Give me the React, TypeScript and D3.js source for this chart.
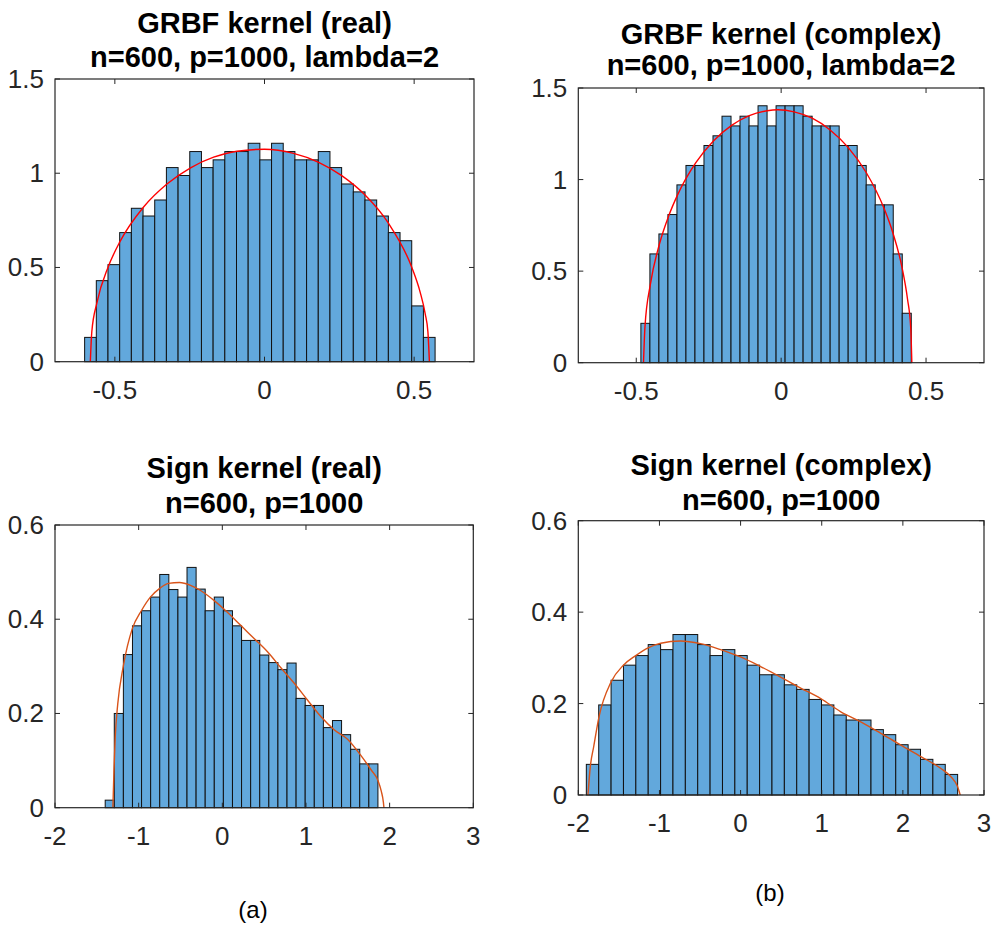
import React from 'react'
import * as d3 from 'd3'

// histogram bar heights (density), 30 bins each
const grbfRealHeights = [0.129, 0.430, 0.515, 0.685, 0.814, 0.773, 0.858, 1.030, 0.988, 1.115, 1.030, 1.071, 1.115, 1.115, 1.159, 1.071, 1.159, 1.115, 1.071, 1.071, 1.115, 1.030, 0.943, 0.901, 0.858, 0.773, 0.685, 0.642, 0.296, 0.129]
const grbfComplexHeights = [0.215, 0.594, 0.703, 0.809, 0.971, 1.077, 1.077, 1.186, 1.239, 1.346, 1.293, 1.346, 1.293, 1.403, 1.293, 1.403, 1.403, 1.403, 1.346, 1.293, 1.293, 1.293, 1.186, 1.186, 1.077, 0.971, 0.862, 0.862, 0.594, 0.270]
const signRealHeights = [0.016, 0.200, 0.325, 0.386, 0.418, 0.447, 0.495, 0.463, 0.447, 0.510, 0.464, 0.418, 0.447, 0.418, 0.386, 0.355, 0.355, 0.324, 0.308, 0.293, 0.307, 0.232, 0.217, 0.217, 0.170, 0.185, 0.155, 0.124, 0.093, 0.093]
const signComplexHeights = [0.067, 0.197, 0.251, 0.284, 0.305, 0.329, 0.318, 0.351, 0.351, 0.329, 0.305, 0.318, 0.305, 0.284, 0.263, 0.263, 0.241, 0.231, 0.209, 0.197, 0.175, 0.164, 0.164, 0.143, 0.132, 0.110, 0.100, 0.078, 0.067, 0.045]

// first bin edge and last bin edge
const grbfRealRange = [-0.601, 0.570]
const grbfComplexRange = [-0.484, 0.449]
const signRealRange = [-1.400, 1.860]
const signComplexRange = [-1.901, 2.675]

// limiting density curves
const grbfRealCurveX = [-0.582, -0.577, -0.560, -0.522, -0.483, -0.404, -0.326, -0.247, -0.170, -0.092, 0.000, 0.097, 0.181, 0.258, 0.336, 0.414, 0.492, 0.520, 0.537, 0.546, 0.551]
const grbfRealCurveY = [0, 0.159, 0.312, 0.504, 0.637, 0.821, 0.943, 1.029, 1.085, 1.117, 1.127, 1.105, 1.058, 0.987, 0.884, 0.735, 0.501, 0.369, 0.254, 0.158, 0]
const grbfComplexCurveX = [-0.475, -0.470, -0.451, -0.420, -0.388, -0.357, -0.295, -0.233, -0.171, -0.110, -0.048, -0.011, 0.045, 0.107, 0.169, 0.231, 0.293, 0.355, 0.386, 0.417, 0.436, 0.447, 0.451]
const grbfComplexCurveY = [0, 0.195, 0.430, 0.648, 0.802, 0.918, 1.091, 1.212, 1.296, 1.349, 1.376, 1.381, 1.370, 1.335, 1.271, 1.176, 1.040, 0.843, 0.707, 0.521, 0.348, 0.195, 0]
const signRealCurveX = [-1.308, -1.295, -1.280, -1.250, -1.184, -1.076, -0.968, -0.860, -0.752, -0.644, -0.512, -0.380, -0.260, -0.100, 0.060, 0.220, 0.380, 0.540, 0.700, 0.860, 1.020, 1.180, 1.340, 1.500, 1.660, 1.780, 1.860, 1.900, 1.925, 1.932]
const signRealCurveY = [0, 0.080, 0.150, 0.220, 0.300, 0.380, 0.418, 0.447, 0.465, 0.476, 0.478, 0.472, 0.461, 0.440, 0.415, 0.387, 0.359, 0.331, 0.297, 0.264, 0.228, 0.193, 0.165, 0.145, 0.110, 0.080, 0.058, 0.035, 0.012, 0]
const signComplexCurveX = [-1.881, -1.852, -1.811, -1.745, -1.597, -1.444, -1.292, -1.140, -0.984, -0.741, -0.494, -0.247, 0.000, 0.247, 0.494, 0.741, 0.988, 1.235, 1.481, 1.728, 1.975, 2.222, 2.469, 2.593, 2.675, 2.707]
const signComplexCurveY = [0, 0.062, 0.105, 0.171, 0.247, 0.284, 0.305, 0.322, 0.332, 0.337, 0.331, 0.318, 0.302, 0.281, 0.258, 0.234, 0.211, 0.182, 0.160, 0.135, 0.109, 0.084, 0.058, 0.040, 0.018, 0]

const grbfXTicks = [-0.5, 0, 0.5]
const grbfYTicks = [0, 0.5, 1, 1.5]
const signXTicks = [-2, -1, 0, 1, 2, 3]
const signYTicks = [0, 0.2, 0.4, 0.6]

const AXIS = '#262626'
const BAR = '#62a8dc'
const FONT = '"Liberation Sans", Arial, Helvetica, sans-serif'

type PanelProps = {
  left: number; right: number; top: number; bottom: number
  xDomain: number[]; yDomain: number[]
  xTicks: number[]; yTicks: number[]
  heights: number[]; range: number[]
  curveX: number[]; curveY: number[]; curveColor: string
  title: string[]; titleY: number[]
}

const Panel = (p: PanelProps) => {
  const x = d3.scaleLinear().domain(p.xDomain).range([p.left, p.right])
  const y = d3.scaleLinear().domain(p.yDomain).range([p.bottom, p.top])
  const bw = (p.range[1] - p.range[0]) / p.heights.length
  const line = d3.line<number>()
    .x((_, i) => x(p.curveX[i]))
    .y(d => y(d))
    .curve(d3.curveMonotoneX)
  const tl = 5
  const cx = (p.left + p.right) / 2
  return (
    <g>
      {p.title.map((t, i) => (
        <text key={t} x={cx} y={p.titleY[i]} textAnchor="middle" fontFamily={FONT}
          fontWeight="bold" fontSize={29} fill="#000">{t}</text>
      ))}
      {p.heights.map((h, i) => {
        const x0 = x(p.range[0] + i * bw)
        const x1 = x(p.range[0] + (i + 1) * bw)
        return <rect key={i} x={x0} y={y(h)} width={x1 - x0} height={y(0) - y(h)}
          fill={BAR} stroke="#111" strokeWidth={1} />
      })}
      <path d={line(p.curveY) || ''} fill="none" stroke={p.curveColor} strokeWidth={1.4} />
      <rect x={p.left} y={p.top} width={p.right - p.left} height={p.bottom - p.top}
        fill="none" stroke={AXIS} strokeWidth={1.2} />
      {p.xTicks.map(t => (
        <g key={'x' + t}>
          <line x1={x(t)} x2={x(t)} y1={p.bottom} y2={p.bottom - tl} stroke={AXIS} />
          <line x1={x(t)} x2={x(t)} y1={p.top} y2={p.top + tl} stroke={AXIS} />
          <text x={x(t)} y={p.bottom + 37} textAnchor="middle" fontFamily={FONT}
            fontSize={26} fill={AXIS}>{String(t)}</text>
        </g>
      ))}
      {p.yTicks.map(t => (
        <g key={'y' + t}>
          <line x1={p.left} x2={p.left + tl} y1={y(t)} y2={y(t)} stroke={AXIS} />
          <line x1={p.right} x2={p.right - tl} y1={y(t)} y2={y(t)} stroke={AXIS} />
          <text x={p.left - 11} y={y(t) + 9} textAnchor="end" fontFamily={FONT}
            fontSize={26} fill={AXIS}>{String(t)}</text>
        </g>
      ))}
    </g>
  )
}

const App = () => {
  return (
    <svg width={991} height={929} style={{ position: 'absolute', left: 0, top: 0, background: '#fff' }}>
      <Panel left={55} right={474} top={79} bottom={361.7}
        xDomain={[-0.7, 0.7]} yDomain={[0, 1.5]} xTicks={grbfXTicks} yTicks={grbfYTicks}
        heights={grbfRealHeights} range={grbfRealRange}
        curveX={grbfRealCurveX} curveY={grbfRealCurveY} curveColor="#ff0000"
        title={['GRBF kernel (real)', 'n=600, p=1000, lambda=2']} titleY={[32.5, 66.5]} />
      <Panel left={578.3} right={984} top={88} bottom={362.7}
        xDomain={[-0.7, 0.7]} yDomain={[0, 1.5]} xTicks={grbfXTicks} yTicks={grbfYTicks}
        heights={grbfComplexHeights} range={grbfComplexRange}
        curveX={grbfComplexCurveX} curveY={grbfComplexCurveY} curveColor="#ff0000"
        title={['GRBF kernel (complex)', 'n=600, p=1000, lambda=2']} titleY={[43.5, 75]} />
      <Panel left={55} right={473.3} top={525} bottom={807.7}
        xDomain={[-2, 3]} yDomain={[0, 0.6]} xTicks={signXTicks} yTicks={signYTicks}
        heights={signRealHeights} range={signRealRange}
        curveX={signRealCurveX} curveY={signRealCurveY} curveColor="#d95319"
        title={['Sign kernel (real)', 'n=600, p=1000']} titleY={[478, 513]} />
      <Panel left={578.3} right={984} top={520.7} bottom={795}
        xDomain={[-2, 3]} yDomain={[0, 0.6]} xTicks={signXTicks} yTicks={signYTicks}
        heights={signComplexHeights} range={signComplexRange}
        curveX={signComplexCurveX} curveY={signComplexCurveY} curveColor="#d95319"
        title={['Sign kernel (complex)', 'n=600, p=1000']} titleY={[475, 510]} />
      <text x={253} y={918} textAnchor="middle" fontFamily={FONT} fontSize={24} fill="#000">(a)</text>
      <text x={770} y={901} textAnchor="middle" fontFamily={FONT} fontSize={24} fill="#000">(b)</text>
    </svg>
  )
}

export default App
